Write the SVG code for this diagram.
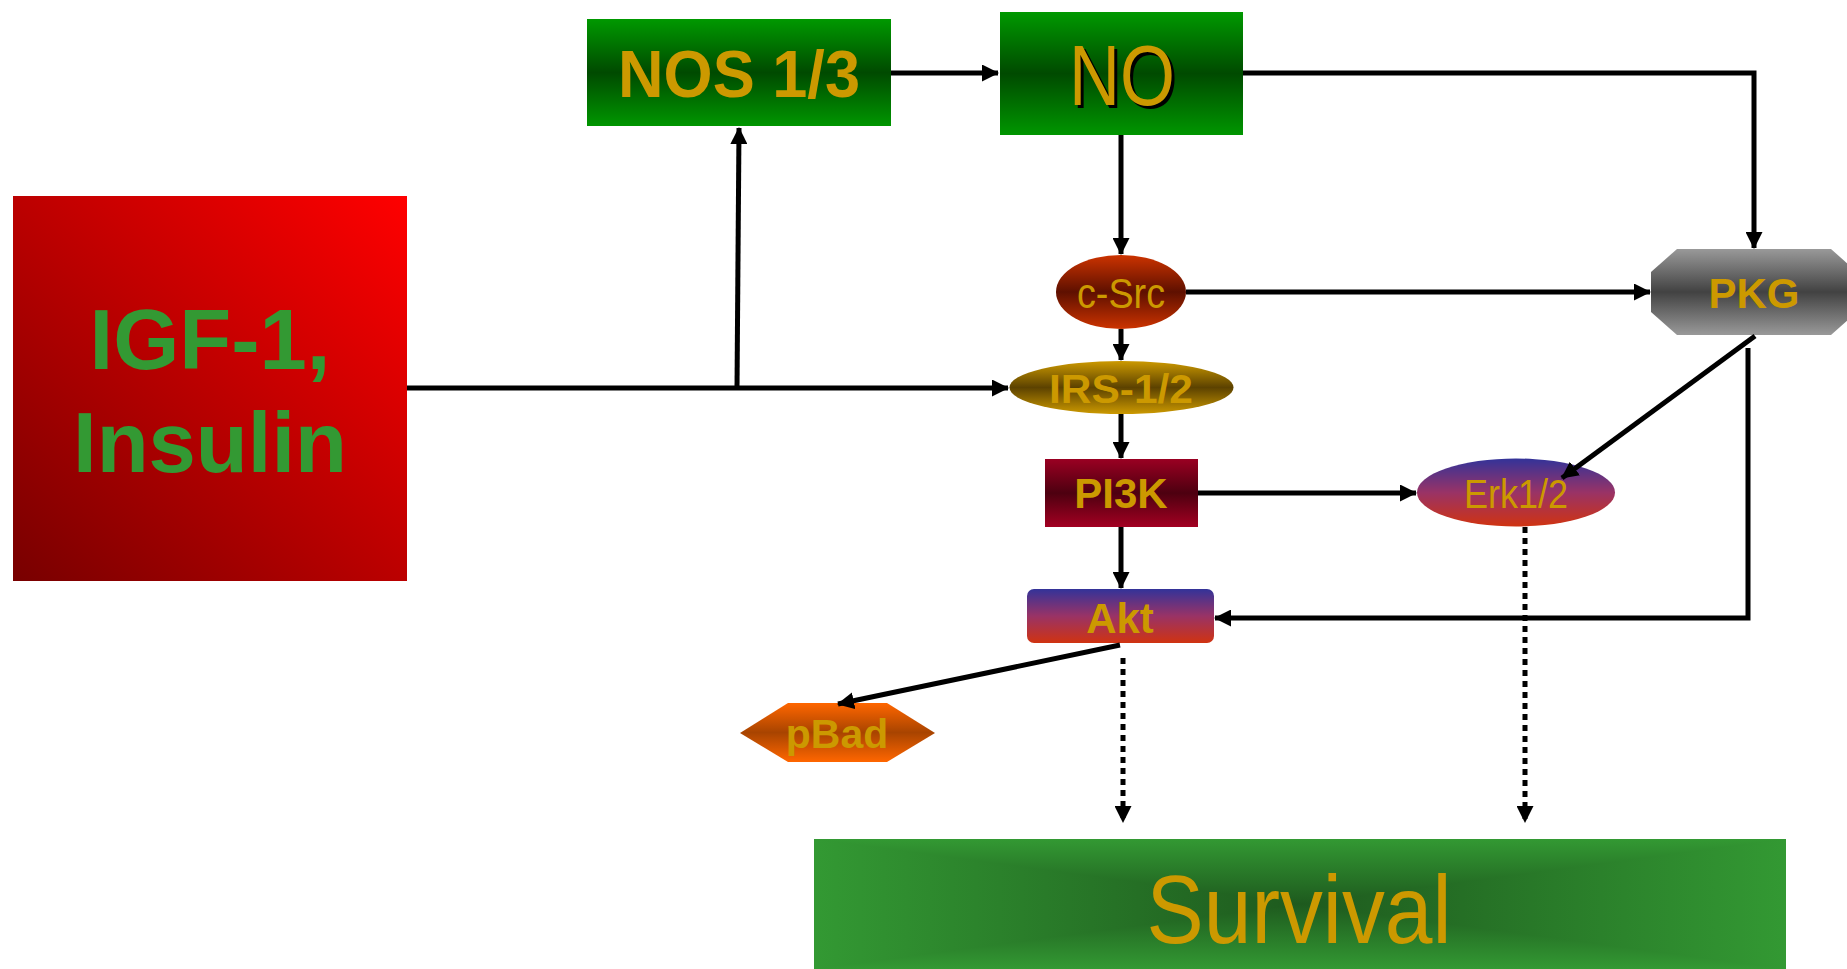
<svg xmlns="http://www.w3.org/2000/svg" width="1847" height="969" viewBox="0 0 1847 969">
<style>
.t{font-family:"Liberation Sans",Arial,sans-serif;fill:#CC9900;text-anchor:middle}
.b{font-weight:bold}
.c{stroke:#000;stroke-width:5;fill:none}
.d{stroke-dasharray:6 5}
</style>
<defs>
<marker id="ah" markerUnits="userSpaceOnUse" markerWidth="17" markerHeight="17" refX="16" refY="8.5" orient="auto"><path d="M0,0 L17,8.5 L0,17 z" fill="#000"/></marker>
<linearGradient id="gIGF" x1="0" y1="1" x2="1" y2="0"><stop offset="0" stop-color="#780000"/><stop offset="1" stop-color="#FF0000"/></linearGradient>
<linearGradient id="gGreen" x1="0" y1="0" x2="0" y2="1"><stop offset="0" stop-color="#009900"/><stop offset="0.5" stop-color="#004A00"/><stop offset="1" stop-color="#009600"/></linearGradient>
<linearGradient id="gSrc" x1="0" y1="0" x2="0" y2="1"><stop offset="0" stop-color="#CC3300"/><stop offset="0.5" stop-color="#5E1000"/><stop offset="1" stop-color="#CC3300"/></linearGradient>
<linearGradient id="gIRS" x1="0" y1="0" x2="0" y2="1"><stop offset="0" stop-color="#CC9900"/><stop offset="0.5" stop-color="#5C4200"/><stop offset="1" stop-color="#CC9900"/></linearGradient>
<linearGradient id="gPI3K" x1="0" y1="0" x2="0" y2="1"><stop offset="0" stop-color="#9A0022"/><stop offset="0.5" stop-color="#4D0010"/><stop offset="1" stop-color="#A30022"/></linearGradient>
<linearGradient id="gPKG" x1="0" y1="0" x2="0" y2="1"><stop offset="0" stop-color="#999999"/><stop offset="0.5" stop-color="#424242"/><stop offset="1" stop-color="#999999"/></linearGradient>
<linearGradient id="gBR" x1="0" y1="0" x2="0" y2="1"><stop offset="0" stop-color="#333399"/><stop offset="0.5" stop-color="#993366"/><stop offset="1" stop-color="#D03311"/></linearGradient>
<linearGradient id="gBad" x1="0" y1="0" x2="0" y2="1"><stop offset="0" stop-color="#FF6600"/><stop offset="0.5" stop-color="#A84400"/><stop offset="1" stop-color="#FF6600"/></linearGradient>
<linearGradient id="gSvT" gradientUnits="userSpaceOnUse" x1="0" y1="839" x2="0" y2="904"><stop offset="0" stop-color="#339933"/><stop offset="1" stop-color="#1E5A1E"/></linearGradient>
<linearGradient id="gSvB" gradientUnits="userSpaceOnUse" x1="0" y1="969" x2="0" y2="904"><stop offset="0" stop-color="#339933"/><stop offset="1" stop-color="#1E5A1E"/></linearGradient>
<linearGradient id="gSvH" gradientUnits="userSpaceOnUse" x1="814" y1="0" x2="1786" y2="0"><stop offset="0" stop-color="#339933"/><stop offset="0.5" stop-color="#1E5A1E"/><stop offset="1" stop-color="#339933"/></linearGradient>
</defs>
<rect width="1847" height="969" fill="#FFFFFF"/>
<g id="igf">
<rect x="13" y="196" width="394" height="385" fill="url(#gIGF)"/>
<text class="b" x="210" y="369" font-family="Liberation Sans, Arial, sans-serif" font-size="85" fill="#339933" text-anchor="middle">IGF-1,</text>
<text class="b" x="210" y="472" font-family="Liberation Sans, Arial, sans-serif" font-size="85" fill="#339933" text-anchor="middle">Insulin</text>
</g>
<g id="nos">
<rect x="587" y="19" width="304" height="107" fill="url(#gGreen)"/>
<text class="t b" x="739" y="97" font-size="66" textLength="242" lengthAdjust="spacingAndGlyphs">NOS 1/3</text>
</g>
<g id="no">
<rect x="1000" y="12" width="243" height="123" fill="url(#gGreen)"/>
<text class="t" x="1125" y="108" font-size="86" style="fill:#000" textLength="106" lengthAdjust="spacingAndGlyphs">NO</text>
<text class="t" x="1122" y="105" font-size="86" textLength="106" lengthAdjust="spacingAndGlyphs">NO</text>
</g>
<g id="csrc">
<ellipse cx="1121" cy="292" rx="65" ry="37" fill="url(#gSrc)"/>
<text class="t" x="1121" y="308" font-size="42" textLength="88" lengthAdjust="spacingAndGlyphs">c-Src</text>
</g>
<g id="pkg">
<polygon points="1677,249 1831,249 1857,272 1857,312 1831,335 1677,335 1651,312 1651,272" fill="url(#gPKG)"/>
<text class="t b" x="1754" y="308" font-size="42">PKG</text>
</g>
<g id="irs">
<ellipse cx="1121.5" cy="387.5" rx="112" ry="26.5" fill="url(#gIRS)"/>
<text class="t b" x="1121" y="403" font-size="41" textLength="144" lengthAdjust="spacingAndGlyphs">IRS-1/2</text>
</g>
<g id="pi3k">
<rect x="1045" y="459" width="153" height="68" fill="url(#gPI3K)"/>
<text class="t b" x="1121" y="508" font-size="42">PI3K</text>
</g>
<g id="erk">
<ellipse cx="1516" cy="492.5" rx="99" ry="34" fill="url(#gBR)"/>
<text class="t" x="1516" y="508" font-size="41" textLength="104" lengthAdjust="spacingAndGlyphs">Erk1/2</text>
</g>
<g id="akt">
<rect x="1027" y="589" width="187" height="54" rx="7" fill="url(#gBR)"/>
<text class="t b" x="1120" y="633" font-size="42">Akt</text>
</g>
<g id="pbad">
<polygon points="740,733 788,703 887,703 935,733 887,762 788,762" fill="url(#gBad)"/>
<text class="t b" x="837" y="748" font-size="41">pBad</text>
</g>
<g id="survival">
<rect x="814" y="839" width="972" height="130" fill="url(#gSvH)"/>
<polygon points="814,839 1786,839 1300,904" fill="url(#gSvT)"/>
<polygon points="814,969 1786,969 1300,904" fill="url(#gSvB)"/>
<text class="t" x="1299" y="943" font-size="96" textLength="305" lengthAdjust="spacingAndGlyphs">Survival</text>
</g>
<g id="connectors">
<path class="c" d="M891,73 L998,73" marker-end="url(#ah)"/>
<path class="c" d="M1243,73 L1754,73 L1754,248" marker-end="url(#ah)"/>
<path class="c" d="M407,388 L1008,388" marker-end="url(#ah)"/>
<path class="c" d="M737,388 L739,128" marker-end="url(#ah)"/>
<path class="c" d="M1121,135 L1121,254" marker-end="url(#ah)"/>
<path class="c" d="M1186,292 L1650,292" marker-end="url(#ah)"/>
<path class="c" d="M1121,329 L1121,360" marker-end="url(#ah)"/>
<path class="c" d="M1121,414 L1121,458" marker-end="url(#ah)"/>
<path class="c" d="M1198,493 L1416,493" marker-end="url(#ah)"/>
<path class="c" d="M1755,336 L1562,478" marker-end="url(#ah)"/>
<path class="c" d="M1121,527 L1121,588" marker-end="url(#ah)"/>
<path class="c" d="M1748,348 L1748,618 L1215,618" marker-end="url(#ah)"/>
<path class="c" d="M1120,645 L838,704" marker-end="url(#ah)"/>
<path class="c d" d="M1123,658 L1123,822" marker-end="url(#ah)"/>
<path class="c d" d="M1525,527 L1525,822" marker-end="url(#ah)"/>
</g>
</svg>
